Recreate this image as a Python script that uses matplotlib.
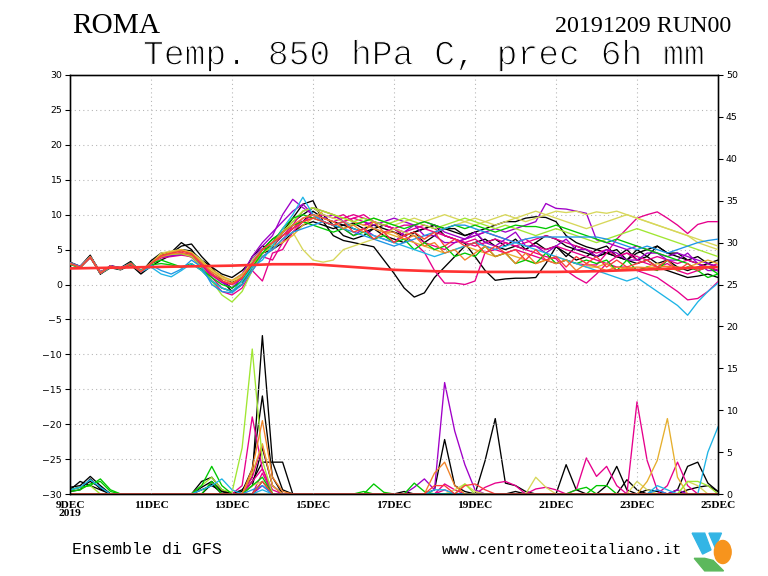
import numpy as np
import matplotlib
matplotlib.use("Agg")
import matplotlib.pyplot as plt
import matplotlib.patheffects as pe
from matplotlib.patches import Ellipse, Polygon

# ---------------- data ----------------
n_steps = 65  # 6-hourly steps from 9DEC00 to 25DEC00
step_days = 0.25
tick_days = [0, 2, 4, 6, 8, 10, 12, 14, 16]
tick_labels = ['9DEC\n2019', '11DEC', '13DEC', '15DEC', '17DEC', '19DEC', '21DEC', '23DEC', '25DEC']

member_colors = ['#000000', '#000000', '#000000', '#000000',
                 '#e6008c', '#e6008c', '#e6008c', '#e6008c',
                 '#a000c8', '#a000c8',
                 '#d7d75a', '#d7d75a', '#e6af2d', '#a0e632',
                 '#00c800', '#00c800', '#1eb4e6', '#1e96e6',
                 '#f08228', '#fa3c3c']

t850_m01 = [3.2, 2.6, 4.2, 1.5, 2.7, 2.4, 3.3, 1.7, 3.4, 4.5, 4.6, 6.0, 5.0,
            3.0, 2.0, 1.2, 0.3, 1.2, 4.0, 5.5, 5.2, 7.5, 9.5, 11.5, 12.0, 9.0,
            7.0, 6.3, 6.0, 5.7, 5.4, 3.5, 1.6, -0.5, -1.8, -1.2, 1.0, 2.5, 4.0,
            5.5, 6.0, 6.5, 5.5, 5.0, 5.5, 5.0, 6.0, 7.0, 6.5, 5.5, 5.0, 4.5,
            4.0, 4.5, 4.0, 3.5, 3.0, 3.5, 2.5, 2.0, 1.5, 1.0, 1.2, 1.5, 1.0]
t850_m02 = [3.0, 2.5, 4.1, 1.8, 2.5, 2.2, 3.1, 1.6, 3.0, 4.2, 4.4, 5.0, 4.8,
            3.5, 2.5, 1.5, 1.0, 2.0, 3.5, 5.0, 5.5, 7.0, 8.0, 9.0, 10.5, 9.5,
            9.0, 8.5, 8.8, 8.0, 8.5, 8.0, 7.5, 7.0, 7.5, 8.0, 8.5, 7.0, 6.5,
            5.9, 4.0, 2.0, 0.6, 0.8, 0.9, 0.9, 1.0, 3.0, 5.4, 4.5, 3.5, 4.0,
            5.0, 4.5, 4.0, 3.5, 4.5, 5.0, 5.5, 4.5, 4.0, 3.5, 3.0, 2.5, 2.0]
t850_m03 = [2.9, 2.4, 3.9, 1.5, 2.4, 2.1, 2.8, 1.5, 2.6, 3.5, 4.2, 4.4, 4.3,
            3.0, 1.5, 0.5, -0.5, 0.5, 2.5, 4.5, 5.0, 6.0, 7.5, 8.5, 9.0, 8.5,
            8.0, 8.5, 8.0, 7.5, 8.0, 7.0, 6.5, 6.0, 7.5, 8.0, 8.5, 8.0, 7.5,
            7.0, 7.5, 8.0, 8.5, 9.0, 9.0, 9.5, 9.7, 9.6, 9.0, 7.0, 6.0, 5.4,
            5.0, 5.5, 4.0, 5.0, 3.5, 4.0, 3.0, 3.5, 2.5, 2.0, 2.5, 3.0, 3.5]
t850_m04 = [3.1, 2.5, 4.0, 1.7, 2.6, 2.3, 3.0, 1.9, 3.1, 4.3, 4.5, 5.5, 5.8,
            4.0, 2.5, 0.5, -1.0, 0.0, 3.0, 5.0, 6.5, 7.5, 9.0, 10.0, 11.0, 10.0,
            8.5, 7.0, 6.5, 7.0, 8.0, 8.5, 8.0, 7.0, 7.5, 6.0, 7.0, 8.0, 8.0,
            7.0, 7.5, 6.0, 6.5, 5.5, 6.5, 5.0, 6.0, 5.0, 5.5, 4.0, 5.5, 5.0,
            4.0, 4.5, 5.0, 3.5, 5.0, 4.0, 5.5, 4.5, 4.5, 3.5, 4.0, 3.0, 2.5]
t850_m05 = [3.0, 2.4, 3.8, 1.8, 2.5, 2.3, 2.8, 2.0, 3.0, 3.8, 4.0, 4.2, 4.0,
            3.0, 1.5, 0.5, 0.0, 1.0, 3.0, 4.5, 5.5, 7.0, 8.5, 9.0, 9.5, 10.0,
            9.5, 10.0, 9.0, 8.5, 9.0, 8.5, 8.0, 7.0, 6.0, 4.6, 2.0, 0.2, 0.2,
            0.0, 0.5, 4.6, 5.0, 6.0, 5.5, 6.0, 6.5, 7.0, 6.5, 6.0, 5.5, 5.0,
            4.5, 5.0, 4.0, 4.5, 3.5, 3.0, 2.5, 3.0, 2.0, 1.5, 2.0, 2.5, 3.0]
t850_m06 = [3.1, 2.6, 3.9, 1.7, 2.7, 2.2, 3.1, 1.8, 2.9, 4.0, 4.3, 4.6, 4.2,
            2.8, 1.0, -0.5, -1.0, 0.0, 2.5, 4.0, 5.0, 6.5, 8.0, 9.5, 10.0, 9.0,
            8.5, 9.0, 9.5, 9.0, 8.0, 7.5, 8.0, 8.5, 8.5, 8.0, 7.5, 7.0, 6.5,
            6.0, 5.5, 6.0, 6.5, 6.0, 5.5, 5.0, 4.5, 4.0, 3.7, 2.0, 1.0, 0.2,
            1.5, 3.0, 4.0, 4.5, 4.0, 3.5, 4.0, 3.5, 3.0, 3.5, 3.0, 2.5, 2.0]
t850_m07 = [2.9, 2.5, 4.0, 1.6, 2.5, 2.3, 3.0, 1.9, 3.0, 4.1, 4.2, 4.4, 3.9,
            2.5, 0.5, -1.0, -1.5, -0.5, 2.0, 4.0, 3.5, 6.0, 8.5, 10.5, 11.0, 10.5,
            10.0, 9.0, 9.5, 10.0, 9.0, 8.5, 8.0, 7.5, 7.0, 6.0, 5.5, 5.0, 6.0,
            6.5, 7.0, 7.5, 7.0, 6.5, 6.0, 6.5, 5.5, 5.0, 5.5, 5.0, 4.5, 4.0,
            3.5, 3.0, 2.5, 2.5, 2.0, 1.5, 1.0, 0.0, -1.0, -2.2, -2.0, -1.0, 0.4]
t850_m08 = [3.0, 2.5, 4.0, 1.7, 2.6, 2.2, 3.0, 1.8, 3.1, 4.0, 4.3, 4.5, 4.1,
            2.7, 1.3, 0.3, 0.0, 0.8, 2.0, 0.5, 4.5, 5.0, 7.5, 9.0, 10.0, 9.5,
            9.0, 9.5, 10.0, 9.5, 9.0, 8.5, 8.0, 7.5, 8.0, 8.5, 8.0, 7.0, 6.5,
            6.0, 6.5, 5.5, 5.0, 4.5, 5.0, 4.5, 4.0, 3.5, 3.0, 3.5, 3.0, 2.8,
            2.8, 4.5, 6.5, 8.0, 9.5, 10.0, 10.4, 9.5, 8.5, 7.3, 8.6, 9.0, 9.0]
t850_m09 = [3.0, 2.5, 4.0, 1.6, 2.7, 2.3, 3.1, 1.9, 3.1, 4.1, 4.4, 4.4, 4.2,
            2.8, 1.5, 0.3, -0.5, 1.0, 3.5, 5.5, 7.0, 10.0, 12.2, 11.0, 10.0, 9.5,
            10.0, 9.0, 8.5, 9.0, 8.5, 9.0, 9.5, 9.0, 8.5, 9.0, 8.5, 7.5, 7.0,
            6.5, 7.0, 7.5, 8.0, 7.5, 8.0, 8.5, 9.0, 11.6, 10.9, 10.8, 10.5, 10.2,
            6.4, 6.0, 5.5, 5.0, 5.5, 5.0, 4.5, 4.0, 4.5, 4.0, 3.5, 3.0, 2.5]
t850_m10 = [3.1, 2.6, 4.0, 1.8, 2.6, 2.4, 3.0, 2.0, 3.0, 4.0, 4.1, 4.3, 4.3,
            3.2, 2.0, 1.0, 0.5, 1.5, 4.0, 6.0, 7.5, 9.0, 10.5, 11.5, 10.0, 9.0,
            8.5, 8.0, 7.0, 8.0, 7.0, 6.5, 6.0, 7.5, 8.5, 7.0, 7.0, 6.0, 6.0,
            6.5, 7.5, 6.0, 5.5, 6.5, 7.5, 5.5, 5.5, 4.5, 5.5, 6.5, 5.0, 5.0,
            4.0, 5.0, 4.5, 3.5, 3.5, 4.5, 4.5, 3.5, 3.5, 4.5, 3.0, 2.0, 2.0]
t850_m11 = [3.0, 2.5, 3.9, 1.7, 2.6, 2.2, 3.0, 1.9, 3.0, 4.0, 4.6, 4.8, 4.5,
            3.2, 2.0, 1.0, 0.5, 1.2, 3.5, 5.0, 6.0, 7.5, 9.0, 10.5, 11.0, 10.0,
            9.5, 9.0, 8.5, 9.0, 9.5, 9.0, 8.5, 9.0, 9.5, 9.0, 9.5, 10.0, 9.5,
            9.0, 8.5, 9.0, 9.5, 10.0, 9.5, 9.0, 9.5, 10.0, 10.5, 10.3, 10.5, 10.0,
            10.4, 10.2, 10.5, 10.0, 9.5, 9.0, 8.5, 8.0, 7.5, 7.0, 6.5, 6.0, 5.5]
t850_m12 = [2.9, 2.4, 3.9, 1.6, 2.5, 2.3, 2.9, 2.0, 3.0, 4.5, 4.8, 5.0, 4.6,
            3.5, 2.0, 1.0, 0.5, 1.0, 3.0, 4.0, 5.0, 6.5, 7.5, 5.0, 3.5, 3.2,
            3.5, 5.0, 5.5, 6.0, 6.5, 7.0, 8.0, 7.5, 7.0, 6.5, 7.5, 8.0, 8.5,
            9.0, 9.5, 9.0, 8.5, 9.0, 9.5, 10.0, 10.5, 10.0, 9.5, 9.0, 8.5, 8.0,
            8.5, 9.0, 9.5, 10.0, 9.5, 9.0, 8.5, 8.0, 7.5, 7.0, 6.0, 5.5, 5.0]
t850_m13 = [3.0, 2.5, 4.0, 1.7, 2.6, 2.3, 3.0, 2.0, 3.1, 4.3, 4.7, 5.0, 4.5,
            3.3, 2.2, 1.2, 0.6, 1.5, 3.0, 4.5, 5.5, 6.0, 7.0, 8.5, 9.5, 10.5,
            10.0, 9.5, 9.0, 8.5, 8.0, 7.5, 7.0, 6.5, 6.0, 5.5, 5.0, 4.5, 5.0,
            5.5, 5.0, 4.5, 4.0, 4.5, 4.0, 3.5, 3.0, 3.5, 4.0, 3.5, 3.0, 2.5,
            2.5, 3.0, 2.0, 2.5, 2.0, 2.5, 3.0, 2.5, 2.0, 2.5, 3.0, 3.5, 3.0]
t850_m14 = [3.1, 2.5, 4.0, 1.6, 2.5, 2.2, 3.0, 1.8, 3.0, 4.0, 4.3, 4.4, 4.0,
            2.5, 0.5, -1.5, -2.5, -1.0, 2.0, 4.5, 5.5, 7.5, 9.0, 10.5, 11.0, 10.5,
            10.0, 9.5, 9.0, 9.5, 9.0, 8.5, 9.0, 9.5, 9.0, 8.5, 8.0, 8.5, 9.0,
            9.5, 9.0, 8.5, 8.0, 8.5, 8.0, 7.5, 7.0, 7.5, 8.0, 7.5, 7.0, 6.5,
            6.0, 6.5, 7.0, 7.5, 8.0, 7.5, 7.0, 6.5, 6.0, 5.5, 5.0, 4.5, 4.0]
t850_m15 = [3.0, 2.5, 3.9, 1.7, 2.6, 2.2, 2.9, 1.9, 3.0, 3.5, 3.0, 2.5, 3.0,
            2.0, 0.5, -0.5, -1.0, 0.0, 2.5, 4.5, 6.0, 8.0, 9.5, 10.0, 9.5, 9.0,
            8.5, 8.0, 8.5, 9.0, 9.5, 9.0, 8.5, 8.0, 8.5, 9.0, 8.5, 8.0, 8.5,
            8.0, 8.5, 8.0, 7.5, 8.0, 8.5, 8.3, 8.3, 8.0, 8.5, 8.0, 7.5, 7.0,
            6.5, 6.0, 6.5, 6.0, 5.5, 5.0, 4.5, 4.0, 3.5, 3.0, 2.0, 1.0, 1.5]
t850_m16 = [2.9, 2.4, 4.0, 1.6, 2.5, 2.3, 3.1, 2.0, 2.8, 3.0, 2.8, 2.4, 2.9,
            2.2, 1.0, 0.0, -0.5, 0.5, 3.0, 5.0, 6.5, 7.5, 8.5, 9.0, 8.5, 8.0,
            7.5, 8.0, 7.0, 7.5, 6.5, 7.0, 6.0, 6.5, 5.0, 6.0, 5.0, 5.5, 4.0,
            4.5, 4.0, 5.5, 4.0, 4.5, 3.0, 3.5, 3.0, 4.5, 3.0, 3.5, 3.0, 3.5,
            3.0, 3.5, 2.0, 3.5, 2.0, 2.5, 2.0, 3.5, 2.0, 2.5, 2.0, 2.5, 1.5]
t850_m17 = [3.0, 2.5, 4.0, 1.6, 2.5, 2.2, 3.0, 1.8, 2.5, 1.5, 1.1, 2.0, 3.0,
            2.0, 0.5, -0.5, -1.0, 0.5, 2.5, 3.5, 5.5, 8.0, 10.0, 12.5, 10.0, 9.0,
            8.5, 9.0, 8.0, 7.5, 7.0, 6.5, 6.0, 5.5, 5.0, 4.5, 4.0, 4.5, 5.0,
            5.5, 6.0, 5.5, 5.0, 5.5, 6.0, 5.5, 5.0, 4.5, 4.0, 3.5, 3.0, 2.5,
            2.0, 1.5, 1.0, 0.5, 1.0, 0.0, -1.0, -2.0, -3.0, -4.4, -2.5, -1.0, 0.2]
t850_m18 = [3.1, 2.6, 4.0, 1.7, 2.6, 2.4, 3.0, 2.0, 2.8, 2.0, 1.5, 2.2, 3.5,
            2.5, 0.0, -1.0, -1.2, 0.0, 2.0, 4.0, 5.0, 6.5, 7.5, 8.0, 8.5, 9.0,
            8.5, 8.0, 7.5, 7.0, 6.5, 6.0, 5.5, 6.0, 6.5, 7.0, 7.5, 8.0, 8.5,
            8.5, 8.0, 7.5, 7.0, 6.5, 6.0, 6.5, 6.8, 6.8, 6.8, 6.8, 6.8, 6.8,
            6.8, 6.5, 6.0, 5.5, 5.0, 5.5, 5.0, 4.5, 5.0, 5.5, 6.0, 6.3, 6.5]
t850_m19 = [3.0, 2.5, 4.0, 1.7, 2.6, 2.3, 3.0, 1.9, 3.0, 4.0, 4.4, 4.5, 4.2,
            3.0, 1.8, 0.8, 0.2, 1.0, 3.0, 5.0, 6.0, 7.5, 8.5, 9.5, 10.0, 9.5,
            9.0, 8.0, 8.5, 7.5, 9.0, 7.5, 7.5, 6.5, 7.0, 5.5, 6.0, 4.5, 5.0,
            3.5, 4.5, 5.5, 4.0, 4.5, 3.0, 4.5, 3.0, 3.5, 3.0, 3.5, 2.0, 3.0,
            2.5, 2.0, 2.5, 2.3, 2.5, 2.4, 2.5, 2.6, 2.5, 2.4, 2.5, 2.6, 2.5]
t850_m20 = [3.0, 2.5, 3.9, 1.6, 2.6, 2.2, 3.0, 1.8, 3.0, 4.1, 4.5, 4.8, 4.4,
            3.0, 1.5, 0.5, 0.0, 1.0, 3.0, 5.0, 6.0, 7.0, 8.0, 9.0, 9.5, 9.0,
            8.5, 9.0, 7.5, 8.0, 6.5, 7.5, 6.0, 7.0, 7.5, 6.5, 7.5, 5.5, 6.5,
            5.5, 6.0, 4.5, 5.5, 4.5, 5.0, 3.5, 5.0, 3.5, 4.0, 2.5, 4.0, 3.0,
            4.0, 2.5, 3.5, 2.5, 3.0, 3.5, 2.5, 3.5, 2.0, 3.0, 2.0, 2.5, 2.5]

# climatology (daily values, 9DEC..25DEC)
clim_days = list(range(17))
clim_t850 = [2.3, 2.4, 2.5, 2.6, 2.7, 2.9, 2.9, 2.5, 2.1, 1.9, 1.8, 1.8, 1.8, 1.9, 2.1, 2.3, 2.5]

prec_m01 = [0.8, 1.0, 2.1, 1.0, 0, 0, 0, 0, 0, 0, 0, 0, 0,
            1.5, 2.0, 0.5, 0, 0.5, 2.0, 18.9, 3.8, 3.8, 0, 0, 0, 0,
            0, 0, 0, 0, 0, 0, 0, 0, 0, 0, 0.5, 6.5, 1.0,
            0.3, 0, 0, 0, 0, 0, 0, 0, 0, 0, 3.5, 0.5, 0,
            0, 0, 0, 0, 0, 0, 0, 0, 0, 0, 0, 0, 0]
prec_m02 = [0.5, 1.5, 1.0, 0.5, 0, 0, 0, 0, 0, 0, 0, 0, 0,
            0.8, 1.5, 0.3, 0, 0.3, 3.0, 11.7, 2.0, 0, 0, 0, 0, 0,
            0, 0, 0, 0, 0, 0, 0, 0.3, 0, 0, 0, 0, 0,
            0, 0, 4.0, 9.0, 1.3, 1.0, 0.3, 0, 0, 0, 0, 0, 0,
            0, 1.0, 3.3, 0.5, 0, 0, 0, 0, 0, 0, 0, 0, 0]
prec_m03 = [0.5, 0.8, 1.5, 0.8, 0, 0, 0, 0, 0, 0, 0, 0, 0,
            0.5, 1.0, 0.3, 0, 0, 1.5, 3.8, 3.8, 0.5, 0, 0, 0, 0,
            0, 0, 0, 0, 0, 0, 0, 0, 0, 0, 0, 0, 0,
            0, 0, 0, 0, 0, 0.3, 0, 0, 0, 0, 0, 0, 0,
            0, 0, 0, 1.7, 0.5, 0, 0, 0, 0.5, 3.3, 3.8, 1.3, 0.3]
prec_m04 = [0.3, 0.5, 1.8, 0.6, 0, 0, 0, 0, 0, 0, 0, 0, 0,
            0, 1.2, 0, 0, 0, 1.0, 5.5, 1.0, 0, 0, 0, 0, 0,
            0, 0, 0, 0, 0, 0, 0, 0, 0, 0, 0, 0, 0,
            0, 0, 0, 0, 0, 0, 0, 0, 0, 0, 0, 0, 0,
            0, 0, 0, 0, 0, 0.5, 0.3, 0, 0, 0.5, 0.8, 1.0, 0.3]
prec_m05 = [0, 0, 0, 0, 0, 0, 0, 0, 0, 0, 0, 0, 0,
            0, 0, 0, 0, 1.0, 9.2, 3.0, 0.5, 0, 0, 0, 0, 0,
            0, 0, 0, 0, 0, 0, 0, 0, 0, 0, 0, 1.2, 0.5,
            0, 0, 0.8, 1.3, 1.5, 1.0, 0, 0, 0, 0, 0, 0, 0,
            0, 0, 0, 0, 0, 0, 0, 0, 0, 0, 0, 0, 0]
prec_m06 = [0, 0, 0, 0, 0, 0, 0, 0, 0, 0, 0, 0, 0,
            0, 0, 0, 0, 0, 2.0, 5.8, 1.0, 0, 0, 0, 0, 0,
            0, 0, 0, 0, 0, 0, 0, 0, 0, 0, 0, 0, 0,
            0, 0, 0, 0, 0, 0, 0, 0, 0, 0, 0, 0.5, 4.3,
            2.1, 3.3, 1.0, 0, 11.0, 4.0, 0.5, 0, 0, 0, 0, 0, 0]
prec_m07 = [0, 0, 0, 0, 0, 0, 0, 0, 0, 0, 0, 0, 0,
            0, 0, 0, 0, 0, 0, 2.5, 0, 0, 0, 0, 0, 0,
            0, 0, 0, 0, 0, 0, 0, 0, 0, 0, 0, 0, 0,
            0, 0, 0, 0, 0, 0, 0, 0, 0, 0, 0, 0, 0,
            0, 0, 0, 0, 0, 0, 0, 1.0, 3.8, 1.0, 0, 0, 0]
prec_m08 = [0, 0, 0, 0, 0, 0, 0, 0, 0, 0, 0, 0, 0,
            0, 0, 0, 0, 0, 1.5, 3.0, 0, 0, 0, 0, 0, 0,
            0, 0, 0, 0, 0, 0, 0, 0, 0, 0, 0, 0.5, 0,
            0, 0, 0, 0, 0, 0, 0, 0.6, 0.8, 0.5, 0, 0, 0,
            0, 0, 0, 0, 0, 0, 0, 0, 0, 0, 0, 0, 0]
prec_m09 = [0, 0, 0, 0, 0, 0, 0, 0, 0, 0, 0, 0, 0,
            0, 0, 0, 0, 0, 0, 0, 0, 0, 0, 0, 0, 0,
            0, 0, 0, 0, 0, 0, 0, 0, 0.8, 1.8, 0.5, 13.3, 7.5,
            3.5, 0.5, 0, 0, 0, 0, 0, 0, 0, 0, 0, 0, 0,
            0, 0, 0, 0, 0, 0, 0, 0, 0, 0, 0, 0, 0]
prec_m10 = [0, 0, 0, 0, 0, 0, 0, 0, 0, 0, 0, 0, 0,
            0, 0, 0, 0, 0, 0, 1.0, 0, 0, 0, 0, 0, 0,
            0, 0, 0, 0, 0, 0, 0, 0, 0, 0, 0, 0, 0,
            0, 0, 0, 0, 0, 0, 0, 0, 0, 0, 0, 0, 0,
            0, 0, 0, 0, 0, 0, 0, 0, 0.5, 0, 0, 0, 0]
prec_m11 = [0, 0, 0, 0, 0, 0, 0, 0, 0, 0, 0, 0, 0,
            0, 0, 0, 0, 0, 1.0, 1.5, 0, 0, 0, 0, 0, 0,
            0, 0, 0, 0, 0, 0, 0, 0, 0, 0, 0, 0, 0,
            0, 0, 0, 0, 0, 0, 0, 2.0, 0.8, 0, 0, 0, 0,
            0, 0, 0, 0, 0, 0, 0, 0, 0, 0, 0, 0, 0]
prec_m12 = [0, 0, 0, 0, 0, 0, 0, 0, 0, 0, 0, 0, 0,
            0, 0, 0, 0, 0, 0, 0, 0, 0, 0, 0, 0, 0,
            0, 0, 0, 0, 0, 0, 0, 0, 0, 0, 0, 0, 0.5,
            1.2, 0.3, 0, 0, 0, 0, 0, 0, 0, 0, 0, 0, 0,
            0, 0, 0, 0, 1.5, 0.5, 0, 0, 0, 1.5, 1.0, 0, 0]
prec_m13 = [0, 0, 0, 0, 0, 0, 0, 0, 0, 0, 0, 0, 0,
            0, 0, 0, 0, 0, 2.5, 6.0, 1.0, 0, 0, 0, 0, 0,
            0, 0, 0, 0, 0, 0, 0, 0, 0, 0, 0, 0, 0,
            0, 0, 0, 0, 0, 0, 0, 0, 0, 0, 0, 0, 0,
            0, 0, 0, 0, 0, 1.5, 4.0, 9.0, 2.0, 0, 0, 0, 0]
prec_m14 = [0.5, 0.8, 1.0, 0, 0, 0, 0, 0, 0, 0, 0, 0, 0,
            1.0, 2.0, 0.5, 0.2, 5.5, 17.3, 4.0, 0, 0, 0, 0, 0, 0,
            0, 0, 0, 0, 0, 0, 0, 0, 0, 0, 0, 0, 0,
            1.2, 0, 0, 0, 0, 0, 0, 0, 0, 0, 0, 0, 0,
            0, 0, 0, 0, 0, 0, 0, 0, 0, 1.5, 1.5, 1.0, 0]
prec_m15 = [0.5, 0.8, 1.0, 1.8, 0.5, 0, 0, 0, 0, 0, 0, 0, 0,
            1.0, 3.3, 1.0, 0, 0, 1.0, 2.0, 0, 0, 0, 0, 0, 0,
            0, 0, 0, 0, 1.2, 0.2, 0, 0, 1.3, 0.3, 0, 0, 0,
            0, 0, 0, 0, 0, 0, 0, 0, 0, 0, 0, 0, 0,
            1.0, 1.0, 0, 0, 0, 0, 0, 0, 0, 0, 0, 0, 0]
prec_m16 = [0.3, 0.5, 1.2, 1.5, 0.3, 0, 0, 0, 0, 0, 0, 0, 0,
            0, 1.5, 0, 0, 0, 0, 1.5, 0, 0, 0, 0, 0, 0,
            0, 0, 0, 0.3, 0, 0, 0, 0, 0, 0, 0, 0, 0,
            0, 0, 0, 0, 0, 0, 0, 0, 0, 0, 0, 0.5, 0.8,
            0, 0, 0, 0, 0, 0, 0, 0, 0, 0, 0, 0, 0]
prec_m17 = [0.5, 0.8, 1.7, 0.8, 0, 0, 0, 0, 0, 0, 0, 0, 0,
            0.5, 1.0, 1.8, 0.5, 0, 0, 0.5, 0, 0, 0, 0, 0, 0,
            0, 0, 0, 0, 0, 0, 0, 0, 0, 0, 0.5, 0.5, 0,
            0, 0, 0, 0, 0, 0, 0, 0, 0, 0, 0, 0, 0,
            0, 0, 0, 0, 0, 0, 1.0, 0.5, 0, 0, 0, 5.0, 8.0]
prec_m18 = [0, 0, 0, 0, 0, 0, 0, 0, 0, 0, 0, 0, 0,
            0, 0, 0, 0, 0, 0.5, 1.0, 0, 0, 0, 0, 0, 0,
            0, 0, 0, 0, 0, 0, 0, 0, 0, 0, 0, 0, 0,
            0, 0, 0, 0, 0, 0, 0, 0, 0, 0, 0, 0, 0,
            0, 0, 0, 0, 0, 0, 0.5, 0, 0, 0, 0, 0, 0]
prec_m19 = [0, 0, 0, 0, 0, 0, 0, 0, 0, 0, 0, 0, 0,
            0, 0, 0, 0, 0, 3.0, 8.75, 2.0, 0.3, 0, 0, 0, 0,
            0, 0, 0, 0, 0, 0, 0, 0, 0, 0, 2.5, 3.8, 1.0,
            0, 0, 0, 0, 0, 0, 0, 0, 0, 0, 0, 0, 0,
            0, 0, 0, 0, 0, 0, 0, 0, 0, 0, 0, 0, 0]
prec_m20 = [0, 0, 0, 0, 0, 0, 0, 0, 0, 0, 0, 0, 0,
            0, 0, 0, 0, 0, 0, 1.5, 0, 0, 0, 0, 0, 0,
            0, 0, 0, 0, 0, 0, 0, 0, 0, 0, 1.0, 1.0, 0,
            1.0, 1.2, 0.5, 0, 0, 0, 0, 0, 0, 0, 0, 0, 0,
            0, 0, 0, 0, 0, 0, 0, 0, 0, 0, 0, 0, 0]

t850_members = [t850_m01, t850_m02, t850_m03, t850_m04, t850_m05, t850_m06, t850_m07,
                t850_m08, t850_m09, t850_m10, t850_m11, t850_m12, t850_m13, t850_m14,
                t850_m15, t850_m16, t850_m17, t850_m18, t850_m19, t850_m20]
prec_members = [prec_m01, prec_m02, prec_m03, prec_m04, prec_m05, prec_m06, prec_m07,
                prec_m08, prec_m09, prec_m10, prec_m11, prec_m12, prec_m13, prec_m14,
                prec_m15, prec_m16, prec_m17, prec_m18, prec_m19, prec_m20]

# ---------------- plot ----------------
W, H = 768, 576
fig = plt.figure(figsize=(W / 96, H / 96), dpi=96)
ax = fig.add_axes([70 / W, 1 - 494 / H, 648 / W, 419 / H])
ax2 = ax.twinx()

x = np.arange(n_steps) * step_days

ax.set_xlim(0, 16)
ax.set_ylim(-30, 30)
ax2.set_ylim(0, 50)

# grid
gstyle = dict(color='#b4b4b4', lw=0.8, linestyle=(0, (1, 3)), zorder=0)
for yv in range(-25, 30, 5):
    ax.axhline(yv, **gstyle)
for xv in tick_days[1:-1]:
    ax.axvline(xv, **gstyle)

# precipitation (right axis)
for col, pr in zip(member_colors, prec_members):
    ax2.plot(x, pr, color=col, lw=1.0, zorder=2)

# temperature members
for col, tm in zip(member_colors, t850_members):
    ax.plot(x, tm, color=col, lw=1.0, zorder=3)

# climatology
ax.plot(clim_days, clim_t850, color='#ff3232', lw=2.0, zorder=4)

# axes styling
for a in (ax, ax2):
    for s in a.spines.values():
        s.set_linewidth(1.0)
        s.set_color('black')

ax.set_yticks(range(-30, 31, 5))
ax2.set_yticks(range(0, 51, 5))
ax.tick_params(axis='y', direction='out', length=4, width=0.8, labelsize=7, pad=2)
ax2.tick_params(axis='y', direction='out', length=4, width=0.8, labelsize=7, pad=2)
ax.set_xticks(tick_days)
ax.set_xticklabels(tick_labels, fontfamily='Liberation Serif', fontsize=8.5, linespacing=0.85)
ax.tick_params(axis='x', length=0, pad=5)
for lbl in ax.get_xticklabels():
    lbl.set_fontweight('bold')

ax.set_zorder(ax2.get_zorder() + 1)
ax.patch.set_visible(False)

# titles
fig.text(72 / W, 1 - 26 / H, 'ROMA', fontfamily='Liberation Serif', fontsize=22,
         ha='left', va='center')
fig.text(731 / W, 1 - 27 / H, '20191209 RUN00', fontfamily='Liberation Serif', fontsize=18,
         ha='right', va='center')
fig.text(143 / W, 1 - 55 / H, 'Temp. 850 hPa C, prec 6h mm', fontfamily='Liberation Mono',
         fontsize=26, ha='left', va='center',
         path_effects=[pe.Normal(), pe.Stroke(linewidth=0.9, foreground='white')])
fig.text(72 / W, 1 - 550 / H, 'Ensemble di GFS', fontfamily='Liberation Mono',
         fontsize=12.5, ha='left', va='center')
fig.text(442 / W, 1 - 550 / H, 'www.centrometeoitaliano.it', fontfamily='Liberation Mono',
         fontsize=11.5, ha='left', va='center')

# small logo
lax = fig.add_axes([690 / W, 1 - 573 / H, 42 / W, 42 / H])
lax.set_xlim(0, 1)
lax.set_ylim(0, 1)
lax.axis('off')
lax.add_patch(Polygon([[0.05, 0.95], [0.35, 0.95], [0.5, 0.55], [0.3, 0.45]], closed=True, color='#33b5e5'))
lax.add_patch(Polygon([[0.45, 0.95], [0.75, 0.95], [0.6, 0.6]], closed=True, color='#33b5e5'))
lax.add_patch(Ellipse((0.78, 0.5), 0.4, 0.55, color='#f7941d'))
lax.add_patch(Polygon([[0.1, 0.35], [0.35, 0.05], [0.8, 0.05], [0.55, 0.3], [0.35, 0.35]], closed=True, color='#5cb85c'))

fig.savefig('out.png', dpi=96)
